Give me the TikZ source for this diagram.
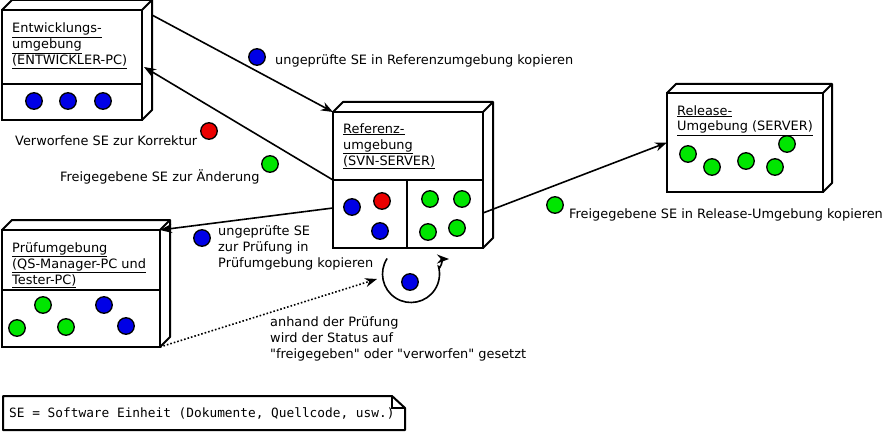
\documentclass[tikz,border=0pt]{standalone}
\usepackage{fontspec}
\setmainfont{DejaVu Sans}[Ligatures=TeXOff]
\setmonofont{DejaVu Sans Mono}
\usetikzlibrary{calc}
\usetikzlibrary{arrows.meta}
\usetikzlibrary{positioning}

\definecolor{seblue}{RGB}{0,0,230}
\definecolor{sered}{RGB}{235,0,0}
\definecolor{segreen}{RGB}{0,230,0}

\newcommand{\extrude}[2]{%
\draw[side] (#1.north west) -- ++(#2,-#2) -- ($(#1.north east)+(#2,-#2)$) -- ($(#1.south east)+(#2,-#2)$) -- (#1.south east);
\draw[side] (#1.north east) -- ++(#2,-#2);
}

\tikzset{
face/.style={draw, line width=2pt, rectangle, inner sep=0pt, outer sep=0pt, anchor=north west},
side/.style={line width=2pt, line join=round},
se/.style={circle, draw=black, line width=1.3pt, minimum size=16.5pt, inner sep=0pt},
txt/.style={font=\fontsize{12.9}{16}\selectfont, anchor=base west, inner sep=0pt, align=left},
flow/.style={line width=1.6pt, -{Stealth[length=12pt,width=9pt]}},
}

\begin{document}
\begin{tikzpicture}[x=1pt,y=-1pt]
\useasboundingbox (0,0) rectangle (885,433);

% Entwicklungsumgebung
\node[face, minimum width=140pt, minimum height=110pt] (dev) at (2,10) {};
\extrude{dev}{10}
\draw[side] (2,84) -- (142,84);
\node[txt] (devtitle) at (12,65) {\underline{Entwicklungs-}\\\underline{umgebung}\\\underline{(ENTWICKLER-PC)}};
\node[se,fill=seblue] (dev1) at (34,101) {};
\node[se,fill=seblue] (dev2) at (68,101) {};
\node[se,fill=seblue] (dev3) at (103,101) {};

% Referenzumgebung
\node[face, minimum width=150pt, minimum height=136pt] (ref) at (333,112) {};
\extrude{ref}{10}
\draw[side] (333,180) -- (483,180);
\draw[side] (407,180) -- (407,248);
\node[txt] (reftitle) at (343,165) {\underline{Referenz-}\\\underline{umgebung}\\\underline{(SVN-SERVER)}};
\node[se,fill=seblue] (ref1) at (352,207) {};
\node[se,fill=sered] (ref2) at (382,201) {};
\node[se,fill=seblue] (ref3) at (380,231) {};
\node[se,fill=segreen] (ref4) at (430,199) {};
\node[se,fill=segreen] (ref5) at (462,199) {};
\node[se,fill=segreen] (ref6) at (428,232) {};
\node[se,fill=segreen] (ref7) at (457,228) {};

% Release-Umgebung
\node[face, minimum width=156pt, minimum height=99pt] (rel) at (667,93) {};
\extrude{rel}{9}
\node[txt] (reltitle) at (677,131) {\underline{Release-}\\\underline{Umgebung (SERVER)}};
\node[se,fill=segreen] (rel1) at (688,154) {};
\node[se,fill=segreen] (rel2) at (712,167) {};
\node[se,fill=segreen] (rel3) at (746,161) {};
\node[se,fill=segreen] (rel4) at (775,167) {};
\node[se,fill=segreen] (rel5) at (787,144) {};

% Pruefumgebung
\node[face, minimum width=158pt, minimum height=117pt] (test) at (2,230) {};
\extrude{test}{10}
\draw[side] (2,290) -- (160,290);
\node[txt] (testtitle) at (12,284) {\underline{Prüfumgebung}\\\underline{(QS-Manager-PC und}\\\underline{Tester-PC)}};
\node[se,fill=segreen] (test1) at (43,305) {};
\node[se,fill=seblue] (test2) at (104,305) {};
\node[se,fill=segreen] (test3) at (17,328) {};
\node[se,fill=segreen] (test4) at (66,327) {};
\node[se,fill=seblue] (test5) at (126,326) {};

% Uebergaben
\coordinate (devout) at ($(dev.north east)+(10,5)$);
\coordinate (refout) at ($(ref.west)+(0,28)$);
\coordinate (relin) at ($(ref.east)+(0,33)$);
\draw[flow] (devout) -- (ref.north west);
\draw[flow] (ref.west) -- ($(dev.east)+(2,2)$);
\draw[flow] (refout) -- (test.north east);
\draw[flow] (relin) -- (rel.west);

% Statuswechsel
\coordinate (loopc) at (411,274);
\coordinate (loopin) at (377,279);
\node[se,fill=seblue] (review) at (410,282) {};
\draw[flow, dotted] (test.south east) -- (loopin);
\draw[flow] ($(loopc)+(213:28.5)$) arc[start angle=213, end angle=-15, radius=28.5] to[out=-80,in=180] (449,259);

% Beschriftungen
\node[se,fill=seblue] (d1) at (257,57) {};
\node[txt] (t1) at (275,65) {ungeprüfte SE in Referenzumgebung kopieren};
\node[se,fill=sered] (d2) at (209,131) {};
\node[txt] (t2) at (15,145) {Verworfene SE zur Korrektur};
\node[se,fill=segreen] (d3) at (270,164) {};
\node[txt] (t3) at (60,181) {Freigegebene SE zur Änderung};
\node[se,fill=seblue] (d4) at (202,238) {};
\node[txt] (t4) at (218,267) {ungeprüfte SE\\zur Prüfung in\\Prüfumgebung kopieren};
\node[se,fill=segreen] (d5) at (555,205) {};
\node[txt] (t5) at (569,218) {Freigegebene SE in Release-Umgebung kopieren};
\node[txt] (t6) at (270,358) {anhand der Prüfung\\wird der Status auf\\"freigegeben" oder "verworfen" gesetzt};

% Legende
\draw[side] (3,396) -- (392,396) -- (405,408) -- (405,430) -- (3,430) -- cycle;
\draw[line width=1.3pt] (392,396) -- (392,408) -- (405,408);
\node[txt, font=\fontsize{12.8}{16}\ttfamily] (sedef) at (9,417) {SE = Software Einheit (Dokumente, Quellcode, usw.)};

\end{tikzpicture}
\end{document}
